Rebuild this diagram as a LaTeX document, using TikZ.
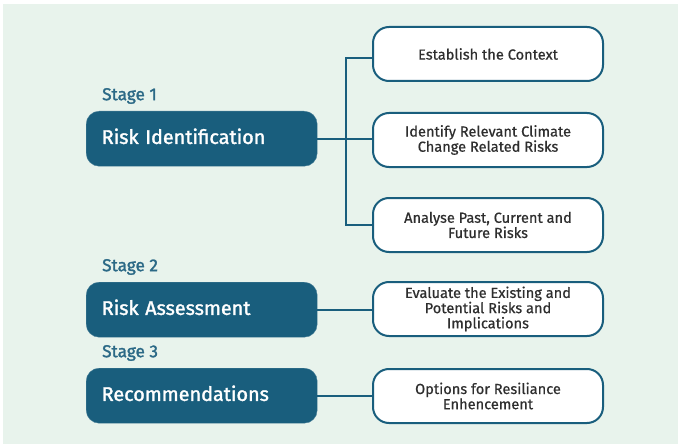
\documentclass[tikz,border=0pt]{standalone}
\usepackage{fontspec}
\setmainfont{Fira Sans}
\newfontfamily\headfont{Fira Sans}[FakeBold=1.6]
\newfontfamily\taskfont{Fira Sans}[FakeBold=0.6]
\usetikzlibrary{calc}
\definecolor{bgmint}{HTML}{E8F3EC}
\definecolor{teal}{HTML}{195E7D}
\definecolor{stagecol}{HTML}{2B6986}
\definecolor{bodytext}{HTML}{2E2E2E}
\tikzset{
  stagebox/.style={rectangle, rounded corners=13pt, fill=teal, draw=teal!80,
    minimum width=231pt, minimum height=55pt, text=white, anchor=north west,
    font=\headfont\fontsize{19.8}{22}\selectfont, align=left, text width=200pt,
    text depth=5pt, inner xsep=15.5pt},
  stagelabel/.style={anchor=west, text=stagecol, font=\headfont\fontsize{17.2}{19}\selectfont, inner sep=0pt},
  taskbox/.style={rectangle, rounded corners=16pt, fill=white, draw=teal, line width=2pt,
    minimum width=230pt, minimum height=54pt, anchor=north west, text=bodytext,
    font=\taskfont\fontsize{14.6}{15.2}\selectfont, align=center, inner sep=2pt},
  link/.style={draw=teal, line width=2.4pt}
}
\begin{document}
\begin{tikzpicture}[x=1pt, y=-1pt]
  \useasboundingbox (0,0) rectangle (678,444);
  \fill[bgmint] (3,4) rectangle (678,444);

  % stage headings and boxes
  \node[stagelabel] (s1) at (102,96) {Stage 1};
  \node[stagebox] (ri) at (86,111) {Risk Identification};
  \node[stagelabel] (s2) at (102,267) {Stage 2};
  \node[stagebox] (ra) at (86,282) {Risk Assessment};
  \node[stagelabel] (s3) at (102,353) {Stage 3};
  \node[stagebox] (rec) at (86,368) {Recommendations};

  % task boxes
  \node[taskbox] (est) at (372,26) {Establish the Context};
  \node[taskbox] (idf) at (372,112) {Identify Relevant Climate\\Change Related Risks};
  \node[taskbox] (ana) at (372,197) {Analyse Past, Current and\\Future Risks};
  \node[taskbox] (eva) at (372,281) {Evaluate the Existing and\\Potential Risks and\\Implications};
  \node[taskbox] (opt) at (372,368) {Options for Resiliance\\Enhencement};

  % connectors
  \coordinate (spine) at (346,0);
  \coordinate (estin) at ($(est.west)+(0,4)$);
  \draw[link] (ri.east) -- (ri.east -| idf.west);
  \draw[link] (estin) -| (spine |- ana.west) -- (ana.west);
  \draw[link] (ra.east) -- (ra.east -| eva.west);
  \draw[link] (rec.east) -- (rec.east -| opt.west);
\end{tikzpicture}
\end{document}
